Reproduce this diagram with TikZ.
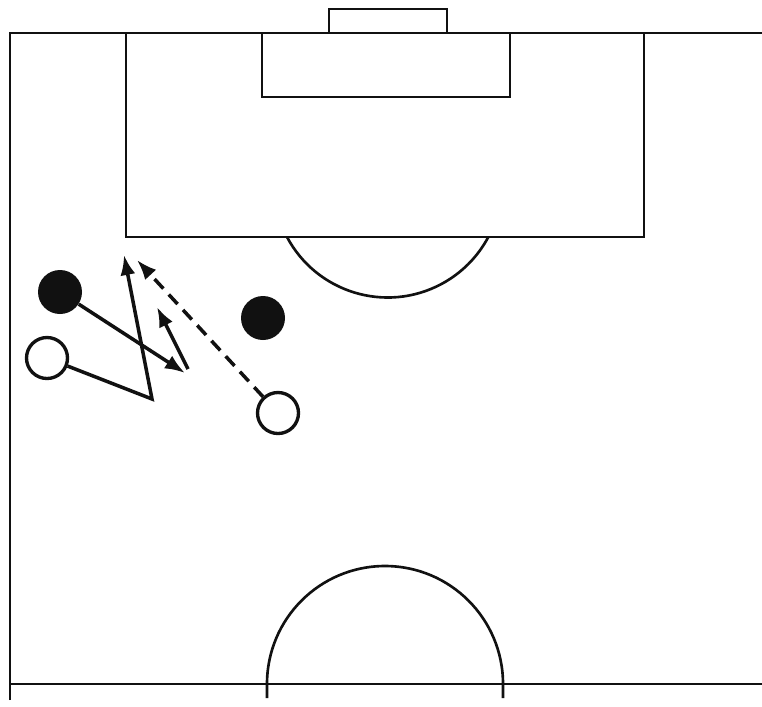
\documentclass[tikz,border=0pt]{standalone}
\usepackage{tikz}
\usetikzlibrary{arrows.meta}
\usepackage{xcolor}
\definecolor{inkblack}{HTML}{111111}
\definecolor{paperwhite}{HTML}{FFFFFF}

\begin{document}
\begin{tikzpicture}[x=0.2mm, y=-0.2mm,
    pitch/.style={draw=inkblack, line width=1.5pt},
    blackplayer/.style={circle, fill=inkblack, minimum size=8.8mm, inner sep=0pt},
    whiteplayer/.style={circle, draw=inkblack, fill=paperwhite, line width=1.9pt, minimum size=8.2mm, inner sep=0pt},
    run/.style={draw=inkblack, line width=2pt, -{Latex[length=4mm, width=3mm]}},
    pass/.style={run, dash pattern=on 2.6mm off 1.6mm}]
    \useasboundingbox[fill=paperwhite] (0,0) rectangle (762,706);
    \draw[pitch] (10,700) -- (10,33) -- (762,33);
    \draw[pitch] (10,684) -- (762,684);
    \draw[pitch] (329,33) -- (329,9) -- (447,9) -- (447,33);
    \draw[pitch] (262,33) -- (262,97) -- (510,97) -- (510,33);
    \draw[pitch] (126,33) -- (126,237) -- (644,237) -- (644,33);
    \draw[pitch] (287,237) arc[start angle=152, end angle=28, radius=114];
    \draw[pitch] (267,698) -- (267,684) arc[start angle=180, end angle=360, radius=118] -- (503,698);
    \node[blackplayer] (atkA) at (60,292) {};
    \node[whiteplayer] (defA) at (47,358) {};
    \node[blackplayer] (atkB) at (263,318) {};
    \node[whiteplayer] (defB) at (278,413) {};
    \coordinate (runend) at (185,373);
    \coordinate (turn) at (152,399);
    \coordinate (runtop) at (124,255);
    \coordinate (shortstart) at (188,369);
    \coordinate (shortend) at (157,307);
    \coordinate (dashend) at (137,260);
    \draw[run] (atkA) -- (runend);
    \draw[run] (defA) -- (turn) -- (runtop);
    \draw[run] (shortstart) -- (shortend);
    \draw[pass] (defB) -- (dashend);
  \end{tikzpicture}
\end{document}
